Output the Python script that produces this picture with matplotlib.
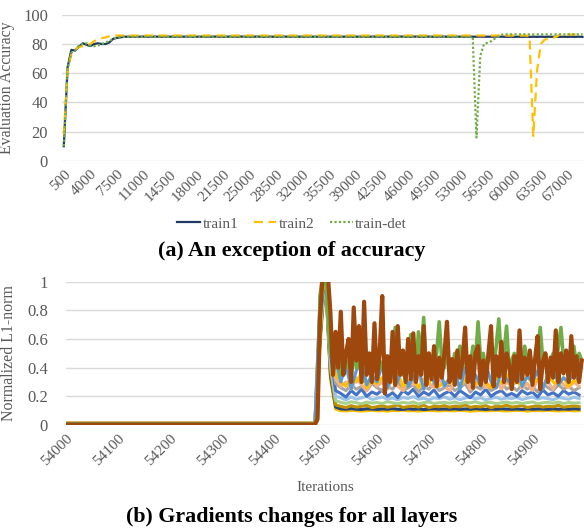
import numpy as np
import matplotlib
matplotlib.use("Agg")
import matplotlib.pyplot as plt

plt.rcParams['font.family'] = ['Liberation Serif', 'DejaVu Serif']

# ---- (a) evaluation accuracy, one point every 500 iterations ----
acc_first_iter = 500
acc_step = 500
tick_every = 7  # label every 3500 iterations

train1 = [10, 64, 76, 75.5, 78, 80.5, 79.5, 78.6, 80, 80.5,
          80, 80, 81, 83.5, 84.2, 84.6, 85, 85, 85, 85.1,
          85, 85.1, 85, 85, 85.1, 85, 85, 85.1, 85, 85,
          85.1, 85, 85, 85.1, 85, 85, 85, 85.1, 85, 85,
          85.1, 85, 85, 85, 85.1, 85, 85, 85.1, 85, 85,
          85, 85.1, 85, 85, 85.1, 85, 85, 85, 85.1, 85,
          85, 85.1, 85, 85, 85, 85.1, 85, 85, 85.1, 85,
          85, 85, 85.1, 85, 85, 85.1, 85, 85, 85, 85.1,
          85, 85, 85.1, 85, 85, 85, 85.1, 85, 85, 85.1,
          85, 85, 85, 85.1, 85, 85, 85.1, 85, 85, 85,
          85.1, 85, 85, 85.1, 85, 85, 85, 85.1, 85, 85,
          85.1, 85, 85, 85, 85.1, 85, 85, 84.9, 85, 84.9,
          85, 84.9, 85, 84.9, 85, 84.9, 85, 84.9, 85, 84.9,
          85, 84.9, 85, 84.9, 85, 84.9, 85, 84.9]
train2 = [18, 62, 73, 76, 78, 78.5, 79, 80, 82, 83,
          84, 84.5, 85.3, 85.6, 85.8, 85.8, 85.8, 85.8, 85.8, 85.8,
          85.8, 85.8, 85.8, 85.8, 85.8, 85.8, 85.8, 85.8, 85.8, 85.8,
          85.8, 85.8, 85.8, 85.8, 85.8, 85.8, 85.8, 85.8, 85.8, 85.8,
          85.8, 85.8, 85.8, 85.8, 85.8, 85.8, 85.8, 85.8, 85.8, 85.8,
          85.8, 85.8, 85.8, 85.8, 85.8, 85.8, 85.8, 85.8, 85.8, 85.8,
          85.8, 85.8, 85.8, 85.8, 85.8, 85.8, 85.8, 85.8, 85.8, 85.8,
          85.8, 85.8, 85.8, 85.8, 85.8, 85.8, 85.8, 85.8, 85.8, 85.8,
          85.8, 85.8, 85.8, 85.8, 85.8, 85.8, 85.8, 85.8, 85.8, 85.8,
          85.8, 85.8, 85.8, 85.8, 85.8, 85.8, 85.8, 85.8, 85.8, 85.8,
          85.8, 85.8, 85.8, 85.8, 85.8, 85.8, 85.8, 85.8, 85.8, 85.8,
          85.8, 85.8, 85.8, 85.8, 85.8, 85.8, 85.8, 85.8, 85.8, 85.8,
          85.8, 85.8, 85.8, 85.5, 17, 62, 80, 83, 83.5, 84,
          85, 86.3, 86.5, 86.5, 86.5, 86.5, 86.5, 86.5]
train_det = [10, 63, 74, 76, 79, 80, 80.5, 79, 78.5, 79,
             80, 81, 82, 83.5, 84.5, 85, 85, 85, 85, 85,
             85, 85, 85, 85, 85, 85, 85, 85, 85, 85,
             85, 85, 85, 85, 85, 85, 85, 85, 85, 85,
             85, 85, 85, 85, 85, 85, 85, 85, 85, 85,
             85, 85, 85, 85, 85, 85, 85, 85, 85, 85,
             85, 85, 85, 85, 85, 85, 85, 85, 85, 85,
             85, 85, 85, 85, 85, 85, 85, 85, 85, 85,
             85, 85, 85, 85, 85, 85, 85, 85, 85, 85,
             85, 85, 85, 85, 85, 85, 85, 85, 85, 85,
             85, 85, 85, 85, 85, 85, 85, 85, 85, 16,
             72, 80, 81, 82, 84, 85.5, 86.6, 86.6, 86.6, 86.6,
             86.6, 86.6, 86.6, 86.6, 86.6, 86.6, 86.6, 86.6, 86.6, 86.6,
             86.6, 86.6, 86.6, 86.6, 86.6, 86.6, 86.6, 86.6]

# ---- (b) normalized L1-norm of gradients ----
# fine series: 54000, then every 5 iterations from 54480
# coarse series: 54000, then every 10 iterations from 54480
brown = [0.003,
         0.003, 0.04, 0.75, 1.05, 1.05, 1.05, 0.78, 0.35, 0.65, 0.4, 0.79, 0.35, 0.5,
         0.6, 0.3, 0.82, 0.45, 0.69, 0.3, 0.86, 0.35, 0.5, 0.3, 0.71, 0.32, 0.5,
         0.9, 0.22, 0.48, 0.3, 0.65, 0.28, 0.69, 0.35, 0.52, 0.3, 0.6, 0.32, 0.64,
         0.3, 0.48, 0.35, 0.69, 0.28, 0.5, 0.32, 0.55, 0.27, 0.47, 0.33, 0.5, 0.72,
         0.3, 0.46, 0.28, 0.52, 0.33, 0.45, 0.68, 0.3, 0.48, 0.26, 0.5, 0.55, 0.28,
         0.45, 0.3, 0.5, 0.69, 0.27, 0.48, 0.34, 0.58, 0.3, 0.5, 0.42, 0.25, 0.48,
         0.3, 0.66, 0.32, 0.47, 0.35, 0.52, 0.28, 0.46, 0.62, 0.25, 0.44, 0.5, 0.3,
         0.47, 0.33, 0.66, 0.3, 0.5, 0.36, 0.52, 0.3, 0.62, 0.33, 0.48, 0.3, 0.45]
green = [0.01,
         0.01, 0.06, 0.9, 1.05, 1.05, 0.8, 0.5, 0.45, 0.4, 0.5, 0.35, 0.45, 0.4,
         0.45, 0.35, 0.5, 0.4, 0.45, 0.35, 0.5, 0.4, 0.38, 0.45, 0.4, 0.35, 0.45,
         0.4, 0.35, 0.45, 0.38, 0.42, 0.68, 0.4, 0.45, 0.35, 0.5, 0.4, 0.63, 0.45,
         0.4, 0.65, 0.45, 0.75, 0.4, 0.5, 0.45, 0.4, 0.5, 0.72, 0.45, 0.4, 0.5,
         0.45, 0.4, 0.5, 0.45, 0.55, 0.4, 0.5, 0.45, 0.4, 0.55, 0.45, 0.72, 0.45,
         0.5, 0.4, 0.45, 0.5, 0.4, 0.55, 0.74, 0.45, 0.5, 0.69, 0.4, 0.45, 0.5,
         0.45, 0.5, 0.4, 0.55, 0.45, 0.5, 0.4, 0.45, 0.5, 0.68, 0.45, 0.5, 0.4,
         0.45, 0.5, 0.4, 0.55, 0.68, 0.45, 0.5, 0.4, 0.45, 0.55, 0.4, 0.5, 0.45]
gold_low = [0.006,
            0.006, 0.55, 1.05, 0.32, 0.11, 0.1, 0.098, 0.102, 0.1, 0.097, 0.1, 0.103, 0.099,
            0.1, 0.097, 0.101, 0.1, 0.104, 0.099, 0.1, 0.097, 0.1, 0.102, 0.1, 0.098, 0.101,
            0.1, 0.099, 0.103, 0.1, 0.096, 0.1, 0.101, 0.099, 0.1, 0.103, 0.1, 0.098, 0.1,
            0.102, 0.1, 0.097, 0.1, 0.101, 0.099, 0.103, 0.1, 0.098, 0.1, 0.101, 0.099, 0.1]
navy = [0.006,
        0.006, 0.6, 1.05, 0.35, 0.125, 0.112, 0.11, 0.114, 0.11, 0.108, 0.113, 0.111, 0.109,
        0.112, 0.11, 0.114, 0.11, 0.109, 0.113, 0.11, 0.112, 0.108, 0.111, 0.113, 0.11, 0.112,
        0.11, 0.113, 0.109, 0.112, 0.11, 0.114, 0.111, 0.109, 0.112, 0.11, 0.113, 0.111, 0.11,
        0.112, 0.109, 0.113, 0.11, 0.112, 0.111, 0.109, 0.113, 0.11, 0.112, 0.11, 0.113, 0.111]
olive = [0.004,
         0.004, 0.62, 1.05, 0.38, 0.14, 0.13, 0.122, 0.135, 0.125, 0.13, 0.138, 0.12, 0.128,
         0.135, 0.124, 0.13, 0.14, 0.122, 0.128, 0.133, 0.125, 0.137, 0.121, 0.13, 0.128, 0.135,
         0.124, 0.132, 0.127, 0.14, 0.123, 0.13, 0.126, 0.135, 0.12, 0.131, 0.128, 0.138, 0.125,
         0.13, 0.136, 0.122, 0.129, 0.134, 0.125, 0.131, 0.127, 0.138, 0.124, 0.13, 0.133, 0.128]
light_green = [0.008,
               0.008, 0.65, 1.05, 0.42, 0.17, 0.158, 0.15, 0.162, 0.155, 0.148, 0.16, 0.153, 0.157,
               0.15, 0.163, 0.155, 0.149, 0.158, 0.152, 0.16, 0.147, 0.156, 0.161, 0.15, 0.155, 0.158,
               0.152, 0.16, 0.148, 0.157, 0.154, 0.162, 0.15, 0.156, 0.159, 0.148, 0.155, 0.16, 0.152,
               0.158, 0.15, 0.156, 0.161, 0.149, 0.155, 0.158, 0.152, 0.16, 0.15, 0.157, 0.153, 0.155]
light_steel = [0.01,
               0.01, 0.7, 1.05, 0.45, 0.2, 0.19, 0.175, 0.195, 0.18, 0.19, 0.2, 0.178, 0.186,
               0.195, 0.18, 0.188, 0.176, 0.192, 0.185, 0.198, 0.18, 0.187, 0.175, 0.19, 0.184, 0.196,
               0.18, 0.19, 0.177, 0.188, 0.195, 0.182, 0.19, 0.176, 0.186, 0.193, 0.18, 0.189, 0.185,
               0.192, 0.178, 0.187, 0.195, 0.181, 0.19, 0.184, 0.176, 0.191, 0.186, 0.18, 0.194, 0.185]
blue = [0.008,
        0.008, 0.75, 1.05, 0.5, 0.24, 0.22, 0.195, 0.24, 0.21, 0.25, 0.2, 0.23, 0.215,
        0.245, 0.2, 0.225, 0.19, 0.24, 0.215, 0.25, 0.2, 0.23, 0.21, 0.245, 0.195, 0.22,
        0.235, 0.2, 0.24, 0.215, 0.19, 0.23, 0.21, 0.25, 0.2, 0.225, 0.24, 0.205, 0.22,
        0.2, 0.24, 0.215, 0.23, 0.195, 0.245, 0.21, 0.225, 0.2, 0.24, 0.215, 0.23, 0.21]
grey = [0.01,
        0.01, 0.8, 1.05, 0.55, 0.29, 0.26, 0.24, 0.28, 0.25, 0.27, 0.24, 0.29, 0.26,
        0.24, 0.27, 0.25, 0.3, 0.24, 0.26, 0.28, 0.23, 0.27, 0.25, 0.29, 0.24, 0.26,
        0.28, 0.24, 0.26, 0.29, 0.23, 0.27, 0.25, 0.28, 0.24, 0.26, 0.3, 0.25, 0.27,
        0.24, 0.28, 0.25, 0.27, 0.23, 0.29, 0.26, 0.24, 0.28, 0.25, 0.27, 0.24, 0.26]
light_orange = [0.016,
                0.016, 0.85, 1.05, 0.6, 0.32, 0.27, 0.3, 0.25, 0.33, 0.28, 0.24, 0.31, 0.27,
                0.3, 0.25, 0.33, 0.27, 0.24, 0.31, 0.28, 0.35, 0.25, 0.29, 0.26, 0.32, 0.27,
                0.24, 0.3, 0.27, 0.33, 0.25, 0.29, 0.31, 0.26, 0.28, 0.34, 0.25, 0.3, 0.27,
                0.31, 0.26, 0.29, 0.24, 0.32, 0.27, 0.3, 0.25, 0.33, 0.28, 0.26, 0.3, 0.27]
gold_high = [0.012,
             0.012, 0.85, 1.05, 0.6, 0.35, 0.3, 0.27, 0.33, 0.3, 0.36, 0.26, 0.31, 0.29,
             0.33, 0.28, 0.31, 0.36, 0.27, 0.3, 0.33, 0.26, 0.32, 0.29, 0.35, 0.27, 0.3,
             0.29, 0.34, 0.27, 0.31, 0.36, 0.28, 0.32, 0.3, 0.26, 0.33, 0.29, 0.35, 0.28,
             0.31, 0.27, 0.34, 0.29, 0.32, 0.26, 0.35, 0.3, 0.28, 0.33, 0.27, 0.31, 0.3]
light_blue = [0.01,
              0.01, 0.9, 1.05, 0.7, 0.45, 0.3, 0.42, 0.25, 0.38, 0.45, 0.28, 0.35, 0.3,
              0.42, 0.26, 0.35, 0.3, 0.45, 0.27, 0.33, 0.4, 0.25, 0.36, 0.3, 0.42, 0.27,
              0.33, 0.38, 0.25, 0.4, 0.3, 0.35, 0.27, 0.43, 0.3, 0.26, 0.37, 0.32, 0.28,
              0.4, 0.27, 0.34, 0.3, 0.38, 0.25, 0.35, 0.42, 0.28, 0.33, 0.3, 0.37, 0.3]

grad_start = 54000
jump_start = 54480
fine_iters = np.concatenate([[grad_start], np.arange(jump_start, 55000, 5)])
coarse_iters = np.concatenate([[grad_start], np.arange(jump_start, 55000, 10)])

TXT = '#595959'
GRID = '#D9D9D9'

fig = plt.figure(figsize=(5.84, 5.29), dpi=100)

# ---------------- panel (a) ----------------
ax1 = fig.add_axes([0.106, 0.696, 0.894, 0.276])
idx = np.arange(len(train1))
ax1.plot(idx, train1, color='#1F3864', lw=1.6, label='train1', zorder=3)
ax1.plot(idx, train2, color='#FFC000', lw=1.6, ls=(0, (4, 2.5)), label='train2', zorder=4)
ax1.plot(idx, train_det, color='#70AD47', lw=1.6, ls=(0, (1, 1)), label='train-det', zorder=5)
ax1.set_xlim(-0.5, 137.4)
ax1.set_ylim(0, 100)
ax1.set_yticks([0, 20, 40, 60, 80, 100])
tick_idx = idx[::tick_every]
ax1.set_xticks(tick_idx)
ax1.set_xticklabels([str(acc_first_iter + acc_step * i) for i in tick_idx],
                    rotation=45, ha='right', va='top', rotation_mode='anchor')
ax1.set_ylabel('Evaluation Accuracy', color=TXT, fontsize=11.4, labelpad=6)
ax1.grid(axis='y', color=GRID, lw=1)
ax1.set_axisbelow(True)
for s in ax1.spines.values():
    s.set_visible(False)
ax1.tick_params(axis='both', length=0, colors=TXT)
ax1.tick_params(axis='y', labelsize=12, pad=10)
ax1.tick_params(axis='x', labelsize=11, pad=5)

fig.legend(loc='center', bbox_to_anchor=(0.5, 0.577), ncol=3, frameon=False,
           fontsize=11, labelcolor=TXT, handlelength=1.5, handletextpad=0.15,
           columnspacing=1.0)
fig.text(0.5, 0.525, '(a) An exception of accuracy', ha='center', va='center',
         fontsize=15.8, fontweight='bold')

# ---------------- panel (b) ----------------
ax2 = fig.add_axes([0.113, 0.1966, 0.887, 0.2709])
coarse = [(gold_low, '#FFC000'), (navy, '#264478'), (olive, '#BF9000'),
          (light_green, '#A9D18E'), (light_steel, '#9DC3E6'), (blue, '#4472C4'),
          (grey, '#A5A5A5'), (light_orange, '#F4B183'), (gold_high, '#FFC000'),
          (light_blue, '#5B9BD5')]
for vals, c in coarse:
    ax2.plot(coarse_iters, vals, color=c, lw=2.2)
ax2.plot(fine_iters, green, color='#70AD47', lw=2.6)
ax2.plot(fine_iters, brown, color='#9E480E', lw=3.0)
ax2.set_xlim(53999.5, 54999.5)
ax2.set_ylim(0, 1)
ax2.set_yticks([0, 0.2, 0.4, 0.6, 0.8, 1])
ax2.set_yticklabels(['0', '0.2', '0.4', '0.6', '0.8', '1'])
ax2.set_xticks(np.arange(54000, 55000, 100))
ax2.set_xticklabels([str(v) for v in np.arange(54000, 55000, 100)],
                    rotation=45, ha='right', va='top', rotation_mode='anchor')
ax2.set_ylabel('Normalized L1-norm', color=TXT, fontsize=11.4, labelpad=7)
ax2.set_xlabel('Iterations', color=TXT, fontsize=11, labelpad=9)
ax2.grid(axis='y', color=GRID, lw=1)
ax2.set_axisbelow(True)
for s in ax2.spines.values():
    s.set_visible(False)
ax2.tick_params(axis='both', length=0, colors=TXT)
ax2.tick_params(axis='y', labelsize=12, pad=13)
ax2.tick_params(axis='x', labelsize=11, pad=5)

fig.text(0.5, 0.023, '(b) Gradients changes for all layers', ha='center', va='center',
         fontsize=15.8, fontweight='bold')

fig.savefig('out.png', dpi=100)
